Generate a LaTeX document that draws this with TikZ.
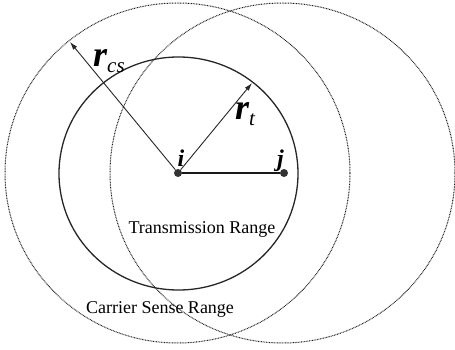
\documentclass[tikz,border=0pt]{standalone}
\usepackage{fontspec}
\setmainfont{Liberation Serif}
\usepackage{tikz}
\usetikzlibrary{arrows.meta,positioning}

\begin{document}
\begin{tikzpicture}[
  x=1pt, y=-1pt,
  every node/.style={font=\fontsize{18}{20}\selectfont},
  station/.style={circle, fill=black!80, inner sep=0pt, minimum size=8pt},
  txcircle/.style={line width=1.3pt, black!85},
  cscircle/.style={line width=1pt, black!90, dash pattern=on 0.8pt off 0.8pt},
  radiusarrow/.style={->, line width=0.9pt, black!85},
  letter/.style={font=\fontsize{24}{24}\selectfont\bfseries\itshape, inner sep=0pt},
  >={Latex[length=8pt,width=5pt]}
]
\useasboundingbox (0,0) rectangle (455,350);

%% ---- Ranges --------------------------------------------------------
\draw[cscircle] (177.5,173) ellipse [x radius=172.5, y radius=170];
\draw[cscircle] (282.5,173) ellipse [x radius=172.5, y radius=170];
\draw[txcircle] (178.5,173.5) ellipse [x radius=119.5, y radius=116.5];

%% ---- Stations ------------------------------------------------------
\node[station] (i) at (178,173) {};
\node[station] (j) at (284,173) {};
\draw[line width=2pt, black!90] (i) -- (j);

\node[letter, anchor=base] (ilabel) at (181,166) {i};
\node[letter, anchor=base east] (jlabel) at (284,166) {j};

%% ---- Radii ---------------------------------------------------------
\coordinate (cs) at (70,42);
\coordinate (tx) at (252,83);
\draw[radiusarrow] (i) -- (cs);
\draw[radiusarrow] (i) -- (tx);

\node[anchor=base west, inner sep=0pt] (rcs) at (93,67)
     {\fontsize{36}{36}\selectfont\bfseries\itshape r\raisebox{-0.16em}{\fontsize{21}{21}\selectfont\mdseries\itshape cs}};
\node[anchor=base west, inner sep=0pt] (rt) at (235,120)
     {\fontsize{36}{36}\selectfont\bfseries\itshape r\raisebox{-0.16em}{\fontsize{21}{21}\selectfont\mdseries\itshape t}};

%% ---- Labels --------------------------------------------------------
\node (txrange) at (202,229) {Transmission Range};
\node (csrange) at (160,309) {Carrier Sense Range};

\end{tikzpicture}
\end{document}
